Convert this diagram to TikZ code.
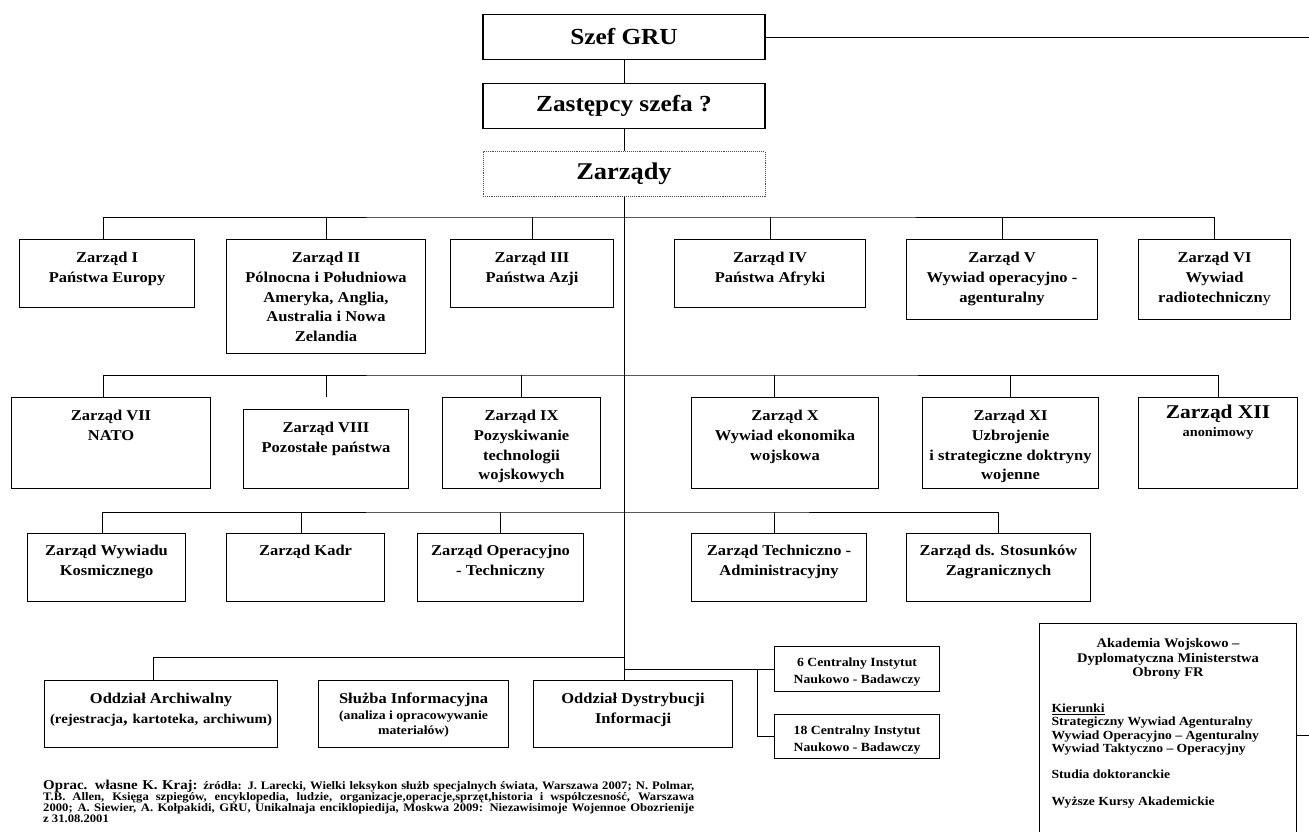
\documentclass[tikz,border=0pt]{standalone}
\usepackage{fontspec}
\setmainfont{Liberation Serif}[FakeStretch=1.1]
\usetikzlibrary{positioning}

\newcommand{\zfont}{\fontsize{15}{19.8}\selectfont\bfseries}
\newcommand{\headfont}{\fontsize{23}{26}\selectfont\bfseries}
\newcommand{\subfont}{\fontsize{12.5}{15.5}\selectfont}
% width, height, text (optional: first baseline from top)
\newcommand{\boxtxt}[4][23pt]{\parbox[t][#3][t]{#2}{\centering\rule{0pt}{#1}#4}}

\begin{document}
\begin{tikzpicture}[x=1pt, y=-1pt,
    node distance=22.5pt,
    head/.style={draw, line width=1.1pt, minimum width=282pt, minimum height=45pt, inner sep=0pt, font=\headfont},
    box/.style={draw, line width=1.1pt, inner sep=0pt, anchor=north west, font=\zfont},
    link/.style={line width=0.9pt}
]
\useasboundingbox (0,0) rectangle (1309,832);

% Head of the chart
\node[head] (szef) at (624,37) {Szef GRU};
\node[head, below=of szef] (zast) {Zastępcy szefa ?};
\node[head, below=of zast, draw=black!70, densely dotted, line width=0.7pt, font=\fontsize{24}{26}\selectfont\bfseries] (zarz) {Zarządy};

% Row 1
\node[box] (z1) at (19,239) {\boxtxt{175pt}{68pt}{Zarząd I\\Państwa Europy}};
\node[box] (z2) at (226,239) {\boxtxt{199pt}{114pt}{Zarząd II\\Pólnocna i Południowa\\Ameryka, Anglia,\\Australia i Nowa\\Zelandia}};
\node[box] (z3) at (450,239) {\boxtxt{163pt}{68pt}{Zarząd III\\Państwa Azji}};
\node[box] (z4) at (674,239) {\boxtxt{191pt}{68pt}{Zarząd IV\\Państwa Afryki}};
\node[box] (z5) at (906,239) {\boxtxt{191pt}{80pt}{Zarząd V\\Wywiad operacyjno -\\agenturalny}};
\node[box] (z6) at (1138,239) {\boxtxt{152pt}{80pt}{Zarząd VI\\Wywiad\\radiotechniczn{\mdseries y}}};

% Row 2
\node[box] (z7) at (11,397) {\boxtxt{199pt}{91pt}{Zarząd VII\\NATO}};
\node[box] (z8) at (243,409) {\boxtxt{165pt}{79pt}{Zarząd VIII\\Pozostałe państwa}};
\node[box] (z9) at (442,397) {\boxtxt{158pt}{91pt}{Zarząd IX\\Pozyskiwanie\\technologii\\wojskowych}};
\node[box] (z10) at (691,397) {\boxtxt{187pt}{91pt}{Zarząd X\\Wywiad ekonomika\\wojskowa}};
\node[box] (z11) at (922,397) {\boxtxt{176pt}{91pt}{Zarząd XI\\Uzbrojenie\\i strategiczne doktryny\\wojenne}};
\node[box] (z12) at (1138,397) {\boxtxt[21pt]{159pt}{91pt}{{\fontsize{19.5}{19}\selectfont Zarząd XII}\\[-2pt]{\fontsize{13}{14}\selectfont anonimowy}}};

% Row 3
\node[box] (kosm) at (27,533) {\boxtxt[22pt]{158pt}{68pt}{Zarząd Wywiadu\\Kosmicznego}};
\node[box] (kadr) at (226,533) {\boxtxt[22pt]{158pt}{68pt}{Zarząd Kadr}};
\node[box] (optech) at (417,533) {\boxtxt[22pt]{166pt}{68pt}{Zarząd Operacyjno\\- Techniczny}};
\node[box] (techadm) at (691,533) {\boxtxt[22pt]{175pt}{68pt}{Zarząd Techniczno -\\Administracyjny}};
\node[box] (stos) at (906,533) {\boxtxt[22pt]{184pt}{68pt}{Zarząd ds. Stosunków\\Zagranicznych}};

% Row 4
\node[box] (arch) at (44,680) {\boxtxt{233pt}{67pt}{Oddział Archiwalny\\{\fontsize{13.5}{15.5}\selectfont\makebox[222pt][s]{(rejestracja{\fontsize{17}{17}\selectfont,} kartoteka, archiwum)}}}};
\node[box] (sluzba) at (318,680) {\boxtxt{190pt}{67pt}{Służba Informacyjna\par{\subfont (analiza i opracowywanie\\materiałów)\par}}};
\node[box] (dystr) at (533,680) {\boxtxt{199pt}{67pt}{Oddział Dystrybucji\\Informacji}};
\node[box, font=\fontsize{12.5}{16.5}\selectfont\bfseries] (ci6) at (774,646) {\boxtxt[20pt]{165pt}{45pt}{6 Centralny Instytut\\Naukowo - Badawczy}};
\node[box, font=\fontsize{12.5}{16.5}\selectfont\bfseries] (ci18) at (774,714) {\boxtxt[20pt]{165pt}{44pt}{18 Centralny Instytut\\Naukowo - Badawczy}};

% Academy
\node[box] (akad) at (1039,623) {\parbox[t][224pt][t]{257pt}{\centering\fontsize{13.2}{14.6}\selectfont\rule{0pt}{24pt}Akademia Wojskowo –\\Dyplomatyczna Ministerstwa\\Obrony FR\par
  \raggedright\leftskip=12pt\fontsize{12.4}{13.5}\selectfont
  \vspace{22pt}\underline{Kierunki}\\Strategiczny Wywiad Agenturalny\\Wywiad Operacyjno – Agenturalny\\Wywiad Taktyczno – Operacyjny\par
  \vspace{12pt}Studia doktoranckie\par
  \vspace{13.5pt}Wyższe Kursy Akademickie\par}};

% Sources
\node[anchor=north west, inner sep=0pt] (zrodla) at (43,775) {\parbox[t]{651pt}{\fontsize{11.5}{11}\selectfont\bfseries
  \tolerance=9999\hbadness=10000\hyphenpenalty=10000
  \rule{0pt}{14.5pt}{\fontsize{13.5}{11}\selectfont Oprac. własne K. Kraj:} źródła: J. Larecki, Wielki leksykon służb specjalnych świata, Warszawa 2007; N. Polmar,\linebreak
  T.B. Allen, Księga szpiegów, encyklopedia, ludzie, organizacje,operacje,sprzęt,historia i współczesność, Warszawa\linebreak
  2000; A. Siewier, A. Kołpakidi, GRU, Unikalnaja enciklopiedija, Moskwa 2009: Niezawisimoje Wojennoe Obozrienije\linebreak
  z 31.08.2001}};

% Connections
\coordinate (bus1) at (624,217);
\coordinate (bus2) at (624,375);
\coordinate (bus3) at (624,512);
\coordinate (bus4) at (624,657);
\coordinate (rim) at (1330,0);

\draw[link] (szef) -- (zast);
\draw[link] (zast) -- (zarz);
\draw[link] (zarz.south) -- (zarz.south |- dystr.north);
\draw[link] (szef.east) -- (szef.east -| rim) |- (akad.east);

\draw[link] ([xshift=-4pt]z1.north) |- (bus1) -| (z6.north);
\draw[link] (z2.north) -- (z2.north |- bus1);
\draw[link] (z3.north) -- (z3.north |- bus1);
\draw[link] (z4.north) -- (z4.north |- bus1);
\draw[link] (z5.north) -- (z5.north |- bus1);

\draw[link] ([xshift=-8pt]z7.north) |- (bus2) -| (z12.north);
\draw[link] ([yshift=12pt]z8.north) -- (z8.north |- bus2);
\draw[link] (z9.north) -- (z9.north |- bus2);
\draw[link] ([xshift=-11pt]z10.north) -- ([xshift=-11pt]z10.north |- bus2);
\draw[link] (z11.north) -- (z11.north |- bus2);

\draw[link] ([xshift=-4pt]kosm.north) |- (bus3) -| (stos.north);
\draw[link] ([xshift=-4pt]kadr.north) -- ([xshift=-4pt]kadr.north |- bus3);
\draw[link] (optech.north) -- (optech.north |- bus3);
\draw[link] ([xshift=-5pt]techadm.north) -- ([xshift=-5pt]techadm.north |- bus3);

\draw[link] ([xshift=-8pt]arch.north) |- (bus4);
\draw[link] (zarz.south |- ci6.west) -- (ci6.west);
\draw[link] ([xshift=-17pt]ci6.west) |- (ci18.west);

\end{tikzpicture}
\end{document}
